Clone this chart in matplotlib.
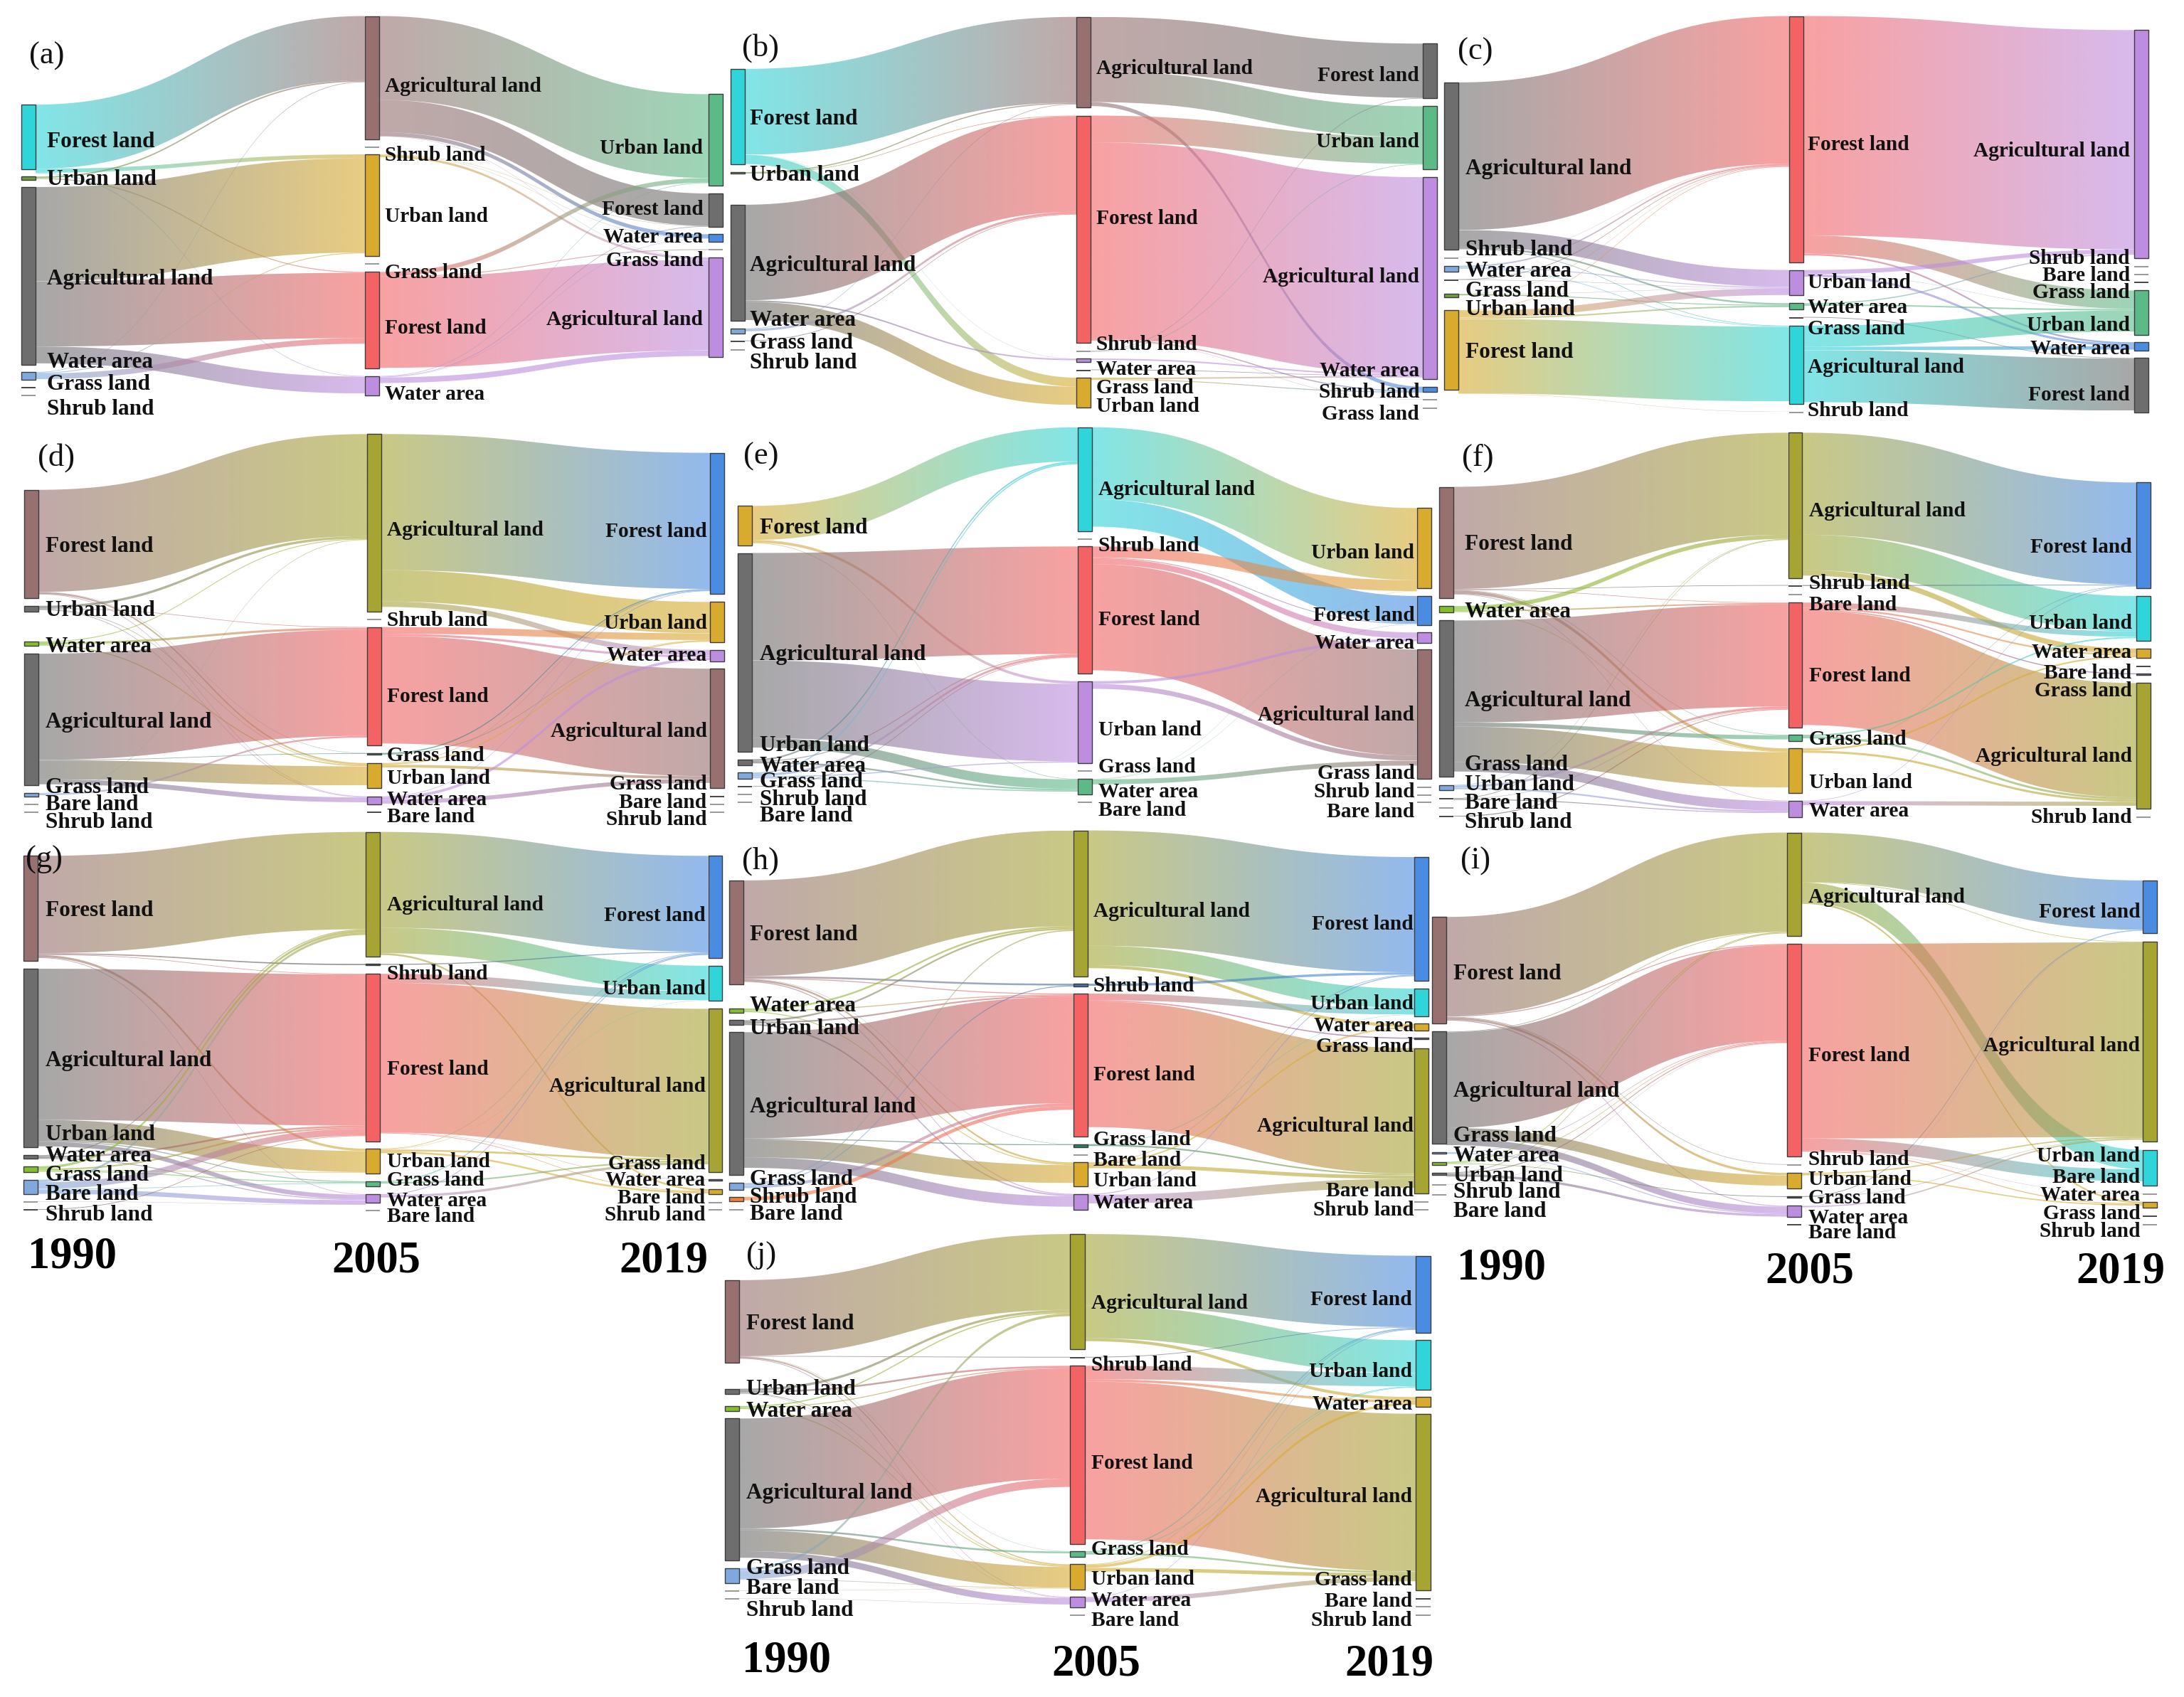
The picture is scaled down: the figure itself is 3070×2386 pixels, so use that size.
import matplotlib
matplotlib.use("Agg")
import matplotlib.pyplot as plt
import numpy as np
from matplotlib.colors import to_rgb
from matplotlib.patches import PathPatch, Rectangle
from matplotlib.path import Path

plt.rcParams['font.family'] = ['Liberation Serif', 'DejaVu Serif']

# node colours
cy, ol, gr, lb, dk, lg = '#2fd5d8', '#6f9a3f', '#6e6e6e', '#7fa9dc', '#4a4a4a', '#9a9a9a'
ye, re, pu, br, gn, bl = '#d8ab2f', '#f46363', '#bd8de0', '#977070', '#5cba87', '#4a8ce2'
ov, bg, or_, dp, dt, db = '#a6a534', '#83bd2c', '#ef7f3a', '#7d5fa0', '#2f7f5f', '#3f6fa8'

F, U, A, W, G, S, B = ('Forest land', 'Urban land', 'Agricultural land', 'Water area',
                       'Grass land', 'Shrub land', 'Bare land')
YEARS = ['1990', '2005', '2019']

# ---- data: node values, colours, flows (source, target, value), labels
a_colors = [[cy, ol, gr, lb, dk, lg], [br, lg, ye, lg, re, pu], [gn, gr, bl, lg, pu]]
a_values = [[231, 13, 633, 27, 3, 3], [438, 3, 362, 3, 343, 68], [325, 119, 27, 3, 355]]
a_links1 = [(0, 0, 228), (0, 2, 14), (0, 5, 2), (1, 0, 5), (1, 4, 3), (2, 2, 335), (2, 4, 232),
            (2, 5, 60), (3, 0, 2), (3, 2, 3), (3, 4, 20)]
a_links2 = [(0, 0, 298), (0, 1, 115), (0, 2, 14), (0, 4, 1), (2, 1, 1), (2, 2, 1), (2, 4, 8),
            (4, 0, 16), (4, 3, 3), (4, 4, 322), (5, 0, 2), (5, 1, 2), (5, 2, 1), (5, 4, 20)]
a_labels = [[F, U, A, W, G, S], [A, S, U, G, F, W], [U, F, W, G, A]]

b_colors = [[cy, ol, gr, lb, dk, lg], [br, re, lg, pu, dk, ye], [gr, gn, pu, bl, lg, lg]]
b_values = [[340, 6, 412, 17, 3, 3], [323, 809, 3, 13, 3, 105], [195, 224, 718, 18, 2, 2]]
b_links1 = [(0, 0, 305), (0, 3, 1), (0, 5, 32), (1, 0, 4), (1, 1, 2), (2, 1, 340), (2, 3, 5),
            (2, 5, 65), (3, 0, 2), (3, 1, 8), (4, 1, 2)]
b_links2 = [(0, 0, 193), (0, 1, 110), (0, 3, 14), (1, 1, 95), (1, 2, 700), (1, 3, 4), (1, 4, 1),
            (2, 0, 2), (2, 1, 2), (3, 2, 5), (4, 2, 2), (5, 2, 5), (5, 3, 3)]
b_labels = [[F, U, A, W, G, S], [A, F, S, W, G, U], [F, U, A, W, S, G]]

c_colors = [[gr, lg, lb, dk, ol, ye], [re, pu, gn, dk, cy, lg], [pu, lg, lg, dk, gn, bl, gr]]
c_values = [[594, 2, 20, 4, 11, 282], [875, 90, 22, 2, 279, 3], [810, 2, 2, 3, 157, 31, 194]]
c_links1 = [(0, 0, 525), (0, 1, 60), (0, 2, 6), (0, 4, 2), (1, 0, 1), (2, 0, 5), (2, 1, 3),
            (2, 4, 2), (3, 0, 2), (3, 1, 1), (4, 0, 1), (4, 1, 1), (4, 2, 3), (5, 0, 2),
            (5, 1, 24), (5, 2, 5), (5, 4, 265), (5, 5, 1)]
c_links2 = [(0, 0, 780), (0, 4, 65), (0, 5, 6), (1, 0, 15), (1, 4, 1), (1, 5, 8), (2, 0, 4),
            (2, 4, 5), (3, 6, 2), (4, 4, 75), (4, 5, 12), (4, 6, 185)]
c_labels = [[A, S, W, G, U, F], [F, U, W, G, A, S], [A, S, B, G, U, W, F]]

d_colors = [[br, gr, bg, gr, lb, lg, lg], [ov, lg, re, dt, ye, pu, dk], [bl, ye, pu, br, dk, lg, lg]]
d_values = [[397, 21, 17, 483, 13, 2, 2], [652, 3, 436, 7, 93, 29, 3], [518, 148, 42, 440, 2, 2, 2]]
d_links1 = [(0, 0, 375), (0, 3, 1), (0, 4, 6), (0, 5, 2), (1, 0, 9), (1, 2, 2), (1, 4, 2),
            (1, 5, 2), (2, 0, 3), (2, 2, 8), (2, 4, 4), (3, 2, 390), (3, 3, 2), (3, 4, 70),
            (3, 5, 18), (4, 0, 2), (4, 2, 6)]
d_links2 = [(0, 0, 500), (0, 1, 115), (0, 2, 20), (2, 1, 25), (2, 2, 8), (2, 3, 395), (3, 0, 4),
            (3, 1, 2), (4, 0, 2), (4, 1, 4), (4, 3, 10), (5, 0, 2), (5, 2, 10), (5, 3, 15)]
d_labels = [[F, U, W, A, G, B, S], [A, S, F, G, U, W, B], [F, U, W, A, G, B, S]]

e_colors = [[ye, gr, gr, lb, dk, lg, lg], [cy, lg, re, pu, lg, gn, lg], [ye, bl, pu, br, lg, lg, lg]]
e_values = [[145, 730, 22, 23, 3, 2, 2], [382, 3, 467, 302, 3, 58, 2], [295, 107, 38, 475, 2, 2, 2]]
e_links1 = [(0, 0, 125), (0, 3, 10), (0, 5, 2), (1, 2, 395), (1, 3, 285), (1, 5, 35), (2, 0, 6),
            (2, 2, 3), (2, 5, 6), (3, 0, 5), (3, 2, 8), (3, 3, 4), (3, 5, 4), (4, 2, 2)]
e_links2 = [(0, 0, 265), (0, 1, 100), (2, 0, 40), (2, 1, 3), (2, 2, 22), (2, 3, 390), (3, 2, 10),
            (3, 3, 18), (5, 0, 1), (5, 1, 1), (5, 3, 18)]
e_labels = [[F, A, U, W, G, S, B], [A, S, F, U, G, W, B], [U, F, W, A, G, S, B]]

f_colors = [[br, bg, gr, lb, dk, lg, dk], [ov, dk, lg, re, gn, ye, pu], [bl, cy, ye, dk, dp, ov, lg]]
f_values = [[410, 23, 575, 20, 3, 2, 3], [534, 4, 2, 460, 24, 165, 60], [389, 165, 35, 2, 6, 462, 2]]
f_links1 = [(0, 0, 375), (0, 1, 2), (0, 3, 2), (0, 4, 2), (0, 5, 12), (0, 6, 2), (1, 0, 15),
            (1, 3, 5), (1, 5, 2), (2, 3, 375), (2, 4, 15), (2, 5, 130), (2, 6, 35), (3, 0, 2),
            (3, 3, 8), (3, 6, 6), (4, 0, 2), (4, 3, 1), (4, 6, 3), (6, 3, 3)]
f_links2 = [(0, 0, 375), (0, 1, 130), (0, 2, 20), (1, 0, 3), (3, 1, 20), (3, 2, 6), (3, 4, 4),
            (3, 5, 420), (4, 1, 5), (4, 5, 8), (5, 0, 2), (5, 2, 6), (5, 5, 8), (6, 0, 2), (6, 5, 15)]
f_labels = [[F, W, A, G, U, B, S], [A, S, B, F, G, U, W], [F, U, W, B, G, A, S]]

g_colors = [[br, gr, gr, bg, lb, lg, dk], [ov, dk, re, ye, gn, pu, lg], [bl, cy, ov, dp, ye, lg, lg]]
g_values = [[350, 597, 12, 20, 47, 3, 3], [417, 5, 560, 84, 18, 29, 2], [342, 117, 546, 5, 18, 2, 2]]
g_links1 = [(0, 0, 325), (0, 1, 4), (0, 2, 2), (0, 3, 8), (0, 5, 2), (1, 2, 505), (1, 3, 70),
            (1, 4, 3), (1, 5, 15), (2, 0, 3), (2, 2, 6), (2, 5, 3), (3, 0, 8), (3, 2, 5), (3, 3, 2),
            (3, 4, 3), (4, 0, 8), (4, 2, 22), (4, 4, 2), (4, 5, 15), (5, 5, 1), (6, 2, 2)]
g_links2 = [(0, 0, 320), (0, 1, 85), (0, 4, 6), (1, 0, 3), (2, 1, 30), (2, 2, 500), (2, 3, 1),
            (2, 4, 2), (3, 0, 2), (3, 1, 1), (3, 2, 6), (3, 4, 6), (4, 0, 3), (4, 2, 5), (5, 0, 3),
            (5, 2, 8)]
g_labels = [[F, A, U, W, G, B, S], [A, S, F, U, G, W, B], [F, U, A, G, W, B, S]]

h_colors = [[br, bg, gr, gr, lb, or_, lg], [ov, db, re, dt, lg, ye, pu], [bl, cy, ye, dp, ov, lg, lg]]
h_values = [[348, 15, 16, 478, 22, 15, 2], [487, 10, 477, 10, 2, 80, 53], [413, 94, 22, 6, 485, 2, 2]]
h_links1 = [(0, 0, 320), (0, 1, 6), (0, 2, 3), (0, 3, 1), (0, 5, 6), (0, 6, 3), (1, 0, 6), (1, 2, 3),
            (1, 5, 3), (2, 0, 6), (2, 2, 5), (2, 6, 5), (3, 2, 355), (3, 3, 3), (3, 5, 60),
            (3, 6, 35), (4, 0, 4), (4, 1, 3), (4, 2, 10), (5, 2, 12)]
h_links2 = [(0, 0, 385), (0, 1, 65), (0, 2, 10), (1, 0, 8), (2, 1, 22), (2, 3, 4), (2, 4, 420),
            (3, 1, 1), (3, 4, 5), (5, 0, 2), (5, 2, 5), (5, 4, 12), (6, 0, 3), (6, 4, 30)]
h_labels = [[F, W, U, A, G, S, B], [A, S, F, G, B, U, W], [F, U, W, G, A, B, S]]

i_colors = [[br, gr, lb, bg, gr, lg, lg], [ov, re, lg, ye, dk, pu, dk], [bl, ov, cy, lg, ye, dk, lg]]
i_values = [[355, 375, 5, 10, 8, 2, 2], [345, 710, 3, 53, 5, 36, 3], [177, 668, 120, 2, 20, 4, 2]]
i_links1 = [(0, 0, 330), (0, 1, 3), (0, 2, 2), (0, 3, 8), (0, 5, 3), (1, 0, 2), (1, 1, 320),
            (1, 3, 35), (1, 5, 22), (2, 1, 2), (2, 5, 3), (3, 0, 3), (3, 1, 2), (3, 4, 2),
            (4, 0, 2), (4, 1, 3), (4, 5, 8), (5, 1, 1)]
i_links2 = [(0, 0, 165), (0, 1, 2), (0, 2, 65), (0, 4, 6), (1, 1, 650), (1, 2, 40), (1, 3, 1),
            (1, 4, 3), (3, 1, 4), (3, 4, 4), (4, 0, 2), (4, 1, 1), (5, 0, 1), (5, 1, 4)]
i_labels = [[F, A, G, W, U, S, B], [A, F, S, U, G, W, B], [F, A, U, B, W, G, S]]

j_colors = [[br, gr, bg, gr, lb, lg, lg], [ov, dk, re, gn, ye, pu, lg], [bl, cy, ye, ov, dk, lg, lg]]
j_values = [[278, 18, 17, 478, 50, 2, 2], [388, 4, 598, 18, 86, 34, 2], [258, 167, 32, 594, 3, 2, 2]]
j_links1 = [(0, 0, 255), (0, 1, 2), (0, 3, 1), (0, 4, 4), (0, 5, 2), (1, 0, 8), (1, 2, 6), (1, 4, 2),
            (1, 5, 1), (2, 0, 4), (2, 2, 3), (2, 4, 3), (3, 2, 370), (3, 3, 6), (3, 4, 70), (3, 5, 22),
            (4, 0, 9), (4, 2, 28), (4, 4, 2), (5, 4, 1), (6, 5, 1)]
j_links2 = [(0, 0, 240), (0, 1, 110), (0, 2, 10), (1, 0, 2), (2, 1, 45), (2, 2, 8), (2, 3, 530),
            (3, 0, 3), (3, 1, 2), (3, 3, 6), (4, 0, 2), (4, 1, 2), (4, 2, 8), (4, 3, 12),
            (5, 0, 2), (5, 3, 15)]
j_labels = [[F, U, W, A, G, B, S], [A, S, F, G, U, W, B], [F, U, W, A, G, B, S]]

# ---- layout, read in crop units: crop origin and size (crops were 1568 wide and tall),
# column lefts, column tops, gaps, label x per column, label y per column, letter position
layout = {
    'a': dict(o=(0, 0), size=(1040, 620), xs=[45, 773, 1502], tops=[372, 57, 335],
              gaps=[[25, 24, 25, 26, 25], [26, 25, 26, 27, 27], [28, 26, 26, 26]],
              lx=[100, 815, 1490], ly=[[497, 630, 985, 1280, 1360, 1448], [300, 545, 762, 962, 1160, 1395],
                                        [520, 738, 835, 920, 1128]], letter=(62, 200)),
    'b': dict(o=(1020, 0), size=(1040, 620), xs=[10, 744, 1478], tops=[245, 60, 155],
              gaps=[[27, 110, 28, 26, 27], [28, 27, 25, 26, 26], [28, 28, 27, 27, 26]],
              lx=[52, 786, 1470], ly=[[415, 615, 937, 1132, 1213, 1283], [237, 770, 1218, 1305, 1372, 1437],
                                       [262, 498, 977, 1312, 1388, 1465]], letter=(35, 170)),
    'c': dict(o=(2030, 0), size=(1040, 620), xs=[0, 731, 1463], tops=[293, 57, 107],
              gaps=[[28, 28, 28, 48, 47], [28, 28, 27, 29, 27], [28, 27, 26, 28, 27, 25]],
              lx=[45, 771, 1453], ly=[[592, 882, 957, 1028, 1095, 1245], [508, 997, 1085, 1162, 1298, 1452],
                                       [530, 912, 972, 1032, 1150, 1233, 1398]], letter=(28, 185)),
    'd': dict(o=(0, 590), size=(1040, 600), xs=[52, 778, 1505], tops=[258, 53, 122],
              gaps=[[29, 110, 28, 29, 27, 27], [28, 26, 27, 30, 29, 27], [30, 28, 27, 28, 27, 27]],
              lx=[97, 820, 1498], ly=[[458, 693, 826, 1105, 1345, 1407, 1472], [398, 730, 1010, 1226, 1310, 1390, 1452],
                                       [405, 742, 858, 1137, 1332, 1400, 1463]], letter=(80, 140)),
    'e': dict(o=(1020, 590), size=(1040, 600), xs=[26, 746, 1465], tops=[317, 28, 325],
              gaps=[[28, 28, 27, 27, 25, 27], [26, 27, 28, 26, 28, 26], [28, 27, 25, 29, 26, 25]],
              lx=[72, 790, 1460], ly=[[390, 857, 1190, 1265, 1323, 1390, 1450], [250, 455, 728, 1133, 1268, 1360, 1428],
                                       [483, 712, 813, 1078, 1293, 1360, 1433]], letter=(37, 135)),
    'f': dict(o=(2030, 590), size=(1040, 600), xs=[-10, 729, 1467], tops=[247, 48, 231],
              gaps=[[28, 30, 29, 29, 30, 30], [26, 27, 31, 26, 26, 27], [28, 28, 28, 26, 30, 29]],
              lx=[43, 773, 1457], ly=[[452, 698, 1027, 1260, 1335, 1403, 1472], [327, 595, 672, 933, 1167, 1325, 1432],
                                       [462, 740, 847, 925, 990, 1230, 1455]], letter=(38, 140)),
    'g': dict(o=(0, 1160), size=(1040, 660), xs=[50, 775, 1501], tops=[103, 23, 103],
              gaps=[[27, 26, 25, 25, 25, 23], [24, 28, 24, 25, 25, 23], [25, 27, 24, 27, 25, 23]],
              lx=[97, 820, 1495], ly=[[280, 780, 1027, 1098, 1162, 1227, 1295], [260, 490, 810, 1118, 1180, 1248, 1300],
                                       [295, 540, 867, 1125, 1180, 1240, 1297]], letter=(55, 115),
              years=[(153, 1437), (798, 1450), (1406, 1450)]),
    'h': dict(o=(1020, 1160), size=(1040, 660), xs=[8, 737, 1460], tops=[185, 18, 107],
              gaps=[[80, 24, 24, 26, 24, 25], [25, 23, 26, 24, 25, 25], [26, 24, 24, 29, 26, 25]],
              lx=[52, 780, 1458], ly=[[360, 598, 673, 935, 1178, 1237, 1293], [282, 532, 828, 1045, 1112, 1183, 1255],
                                       [325, 590, 665, 732, 998, 1215, 1280]], letter=(35, 120)),
    'i': dict(o=(2030, 1160), size=(1040, 660), xs=[-25, 727, 1481], tops=[307, 25, 185],
              gaps=[[28, 28, 27, 26, 31, 30], [27, 26, 26, 25, 27, 25], [28, 27, 26, 25, 26, 25]],
              lx=[20, 772, 1475], ly=[[490, 883, 1032, 1098, 1165, 1220, 1283], [235, 763, 1110, 1178, 1240, 1305, 1355],
                                       [283, 730, 1098, 1170, 1230, 1292, 1350]], letter=(35, 120),
              years=[(121, 1475), (774, 1487), (1433, 1487)]),
    'j': dict(o=(1000, 1730), size=(1060, 656), xs=[28, 746, 1465], tops=[167, 12, 85],
              gaps=[[87, 40, 25, 25, 25, 24], [25, 26, 25, 26, 24, 24], [26, 24, 24, 26, 24, 25]],
              lx=[73, 790, 1457], ly=[[307, 527, 602, 875, 1130, 1197, 1270], [238, 445, 775, 1065, 1165, 1237, 1305],
                                       [225, 468, 577, 888, 1168, 1240, 1303]], letter=(72, 85),
              years=[(156, 1440), (800, 1452), (1410, 1452)]),
}

panels = {
    'a': (a_colors, a_values, a_links1, a_links2, a_labels),
    'b': (b_colors, b_values, b_links1, b_links2, b_labels),
    'c': (c_colors, c_values, c_links1, c_links2, c_labels),
    'd': (d_colors, d_values, d_links1, d_links2, d_labels),
    'e': (e_colors, e_values, e_links1, e_links2, e_labels),
    'f': (f_colors, f_values, f_links1, f_links2, f_labels),
    'g': (g_colors, g_values, g_links1, g_links2, g_labels),
    'h': (h_colors, h_values, h_links1, h_links2, h_labels),
    'i': (i_colors, i_values, i_links1, i_links2, i_labels),
    'j': (j_colors, j_values, j_links1, j_links2, j_labels),
}

CROP = 1568
NODE_W = 30
LINK_ALPHA = 0.6
LABEL_SIZE = [22.5, 21.2, 21.2]
t = np.linspace(0, 1, 60)


def draw_link(ax, x0, x1, y0, y1, w, c0, c1):
    """Gradient ribbon between two nodes, y values in figure pixels"""
    xm = (x0 + x1) / 2
    xs = (1 - t)**3 * x0 + 3 * (1 - t)**2 * t * xm + 3 * (1 - t) * t**2 * xm + t**3 * x1
    ease = 3 * t**2 - 2 * t**3
    top = y0 + (y1 - y0) * ease
    verts = np.vstack([np.c_[xs, top], np.c_[xs[::-1], top[::-1] + w]])
    patch = PathPatch(Path(verts), transform=ax.transData, fc='none', ec='none')

    grad = np.zeros((1, 128, 4))
    grad[0, :, :3] = np.linspace(to_rgb(c0), to_rgb(c1), 128)
    grad[0, :, 3] = LINK_ALPHA
    im = ax.imshow(grad, extent=(x0, x1, verts[:, 1].max(), verts[:, 1].min()), aspect='auto',
                   interpolation='bilinear', zorder=2)
    im.set_clip_path(patch)


def draw_panel(ax, key):
    colors, values, links1, links2, labels = panels[key]
    lay = layout[key]
    kx, ky = lay['size'][0] / CROP, lay['size'][1] / CROP
    ox, oy = lay['o']

    # node tops from column top, values and gaps
    tops = []
    for col in range(3):
        y = [lay['tops'][col]]
        for v, g in zip(values[col][:-1], lay['gaps'][col]):
            y.append(y[-1] + v + g)
        tops.append(y)
    px = lambda x: ox + x * kx
    py = lambda y: oy + y * ky

    for col, links in enumerate((links1, links2)):
        out_used = {}
        in_used = {}
        # stacked inside a node by the position of the node at the other end
        out_y = {}
        for s, d, v in sorted(links, key=lambda l: (l[0], l[1])):
            out_y[(s, d)] = tops[col][s] + out_used.get(s, 0)
            out_used[s] = out_used.get(s, 0) + v
        in_y = {}
        for s, d, v in sorted(links, key=lambda l: (l[1], l[0])):
            in_y[(s, d)] = tops[col + 1][d] + in_used.get(d, 0)
            in_used[d] = in_used.get(d, 0) + v
        for s, d, v in links:
            draw_link(ax, px(lay['xs'][col] + NODE_W), px(lay['xs'][col + 1]),
                      py(out_y[(s, d)]), py(in_y[(s, d)]), v * ky,
                      colors[col][s], colors[col + 1][d])

    for col in range(3):
        for y, v, c in zip(tops[col], values[col], colors[col]):
            thin = v <= 4
            ax.add_patch(Rectangle((px(lay['xs'][col]), py(y)), NODE_W * kx, max(v * ky, 2), fc=c,
                                   ec='none' if thin else '#3c3c3c', lw=1.0, zorder=3))
        ha = 'right' if col == 2 else 'left'
        for name, y in zip(labels[col], lay['ly'][col]):
            ax.text(px(lay['lx'][col]), py(y) + 3, name, ha=ha, va='center', fontsize=LABEL_SIZE[col],
                    fontweight='bold', color='#111111', zorder=4)

    ax.text(px(lay['letter'][0]), py(lay['letter'][1]), '(%s)' % key, ha='left', va='center',
            fontsize=32, color='#111111', zorder=4)
    if 'years' in lay:
        for year, (x, y) in zip(YEARS, lay['years']):
            ax.text(px(x), py(y) + 3, year, ha='center', va='center', fontsize=45,
                    fontweight='bold', color='black', zorder=4)


if __name__ == "__main__":
    fig = plt.figure(figsize=(30.70, 23.86), dpi=100)
    ax = fig.add_axes([0, 0, 1, 1])
    for key in panels:
        draw_panel(ax, key)
    ax.set_xlim(0, 3070)
    ax.set_ylim(2386, 0)
    ax.axis('off')
    fig.savefig('out.png', dpi=100, facecolor='white')
